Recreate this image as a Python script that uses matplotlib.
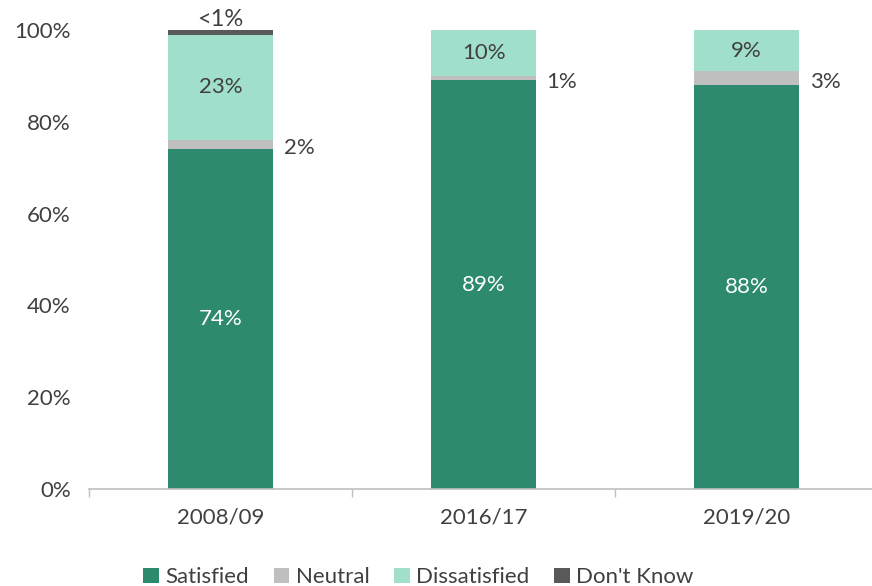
import matplotlib
matplotlib.use("Agg")
import matplotlib.pyplot as plt
from matplotlib.patches import Patch
import numpy as np

plt.rcParams['font.family'] = ['Lato', 'DejaVu Sans']

categories = ["2008/09", "2016/17", "2019/20"]
series_names = ["Satisfied", "Neutral", "Dissatisfied", "Don't Know"]
satisfied = [74, 89, 88]
neutral = [2, 1, 3]
dissatisfied = [23, 10, 9]
dont_know = [1, 0, 0]
satisfied_labels = ["74%", "89%", "88%"]
neutral_labels = ["2%", "1%", "3%"]
dissatisfied_labels = ["23%", "10%", "9%"]
dont_know_labels = ["<1%", "", ""]
yticks = [0, 20, 40, 60, 80, 100]
ytick_labels = ["0%", "20%", "40%", "60%", "80%", "100%"]

colors = ["#2E8A6F", "#BFBFBF", "#A0DFCB", "#595959"]
text_color = "#404040"

fig = plt.figure(figsize=(8.72, 5.86), dpi=100)
ax = fig.add_axes([0.102, 0.1655, 0.905, 0.7833])

x = np.arange(len(categories))
w = 0.40
data = [satisfied, neutral, dissatisfied, dont_know]
bottom = np.zeros(len(categories))
bars = []
for vals, c, name in zip(data, colors, series_names):
    ax.bar(x, vals, w, bottom=bottom, color=c, label=name, zorder=2)
    bars.append((np.array(vals, float), bottom.copy()))
    bottom = bottom + np.array(vals, float)

fs = 16
# Satisfied labels (white, centered)
for i in range(len(categories)):
    v, b0 = bars[0][0][i], bars[0][1][i]
    ax.text(x[i], b0 + v / 2, satisfied_labels[i], ha='center', va='center',
            color='white', fontsize=fs)
# Dissatisfied labels (centered)
for i in range(len(categories)):
    v, b0 = bars[2][0][i], bars[2][1][i]
    ax.text(x[i], b0 + v / 2, dissatisfied_labels[i], ha='center', va='center',
            color=text_color, fontsize=fs)
# Neutral labels (right of bar)
for i in range(len(categories)):
    v, b0 = bars[1][0][i], bars[1][1][i]
    ax.text(x[i] + w / 2 + 0.04, b0 + v / 2 - 0.8, neutral_labels[i], ha='left', va='center',
            color=text_color, fontsize=fs)
# Don't know labels (above)
for i in range(len(categories)):
    if dont_know_labels[i]:
        v, b0 = bars[3][0][i], bars[3][1][i]
        ax.text(x[i], b0 + v + 0.0, dont_know_labels[i], ha='center', va='bottom',
                color=text_color, fontsize=fs + 1)

ax.set_xlim(-0.5, 2.5)
ax.set_ylim(0, 100)
ax.set_yticks(yticks)
ax.set_yticklabels(ytick_labels, color=text_color, fontsize=fs)
ax.set_xticks(x)
ax.set_xticklabels(categories, color=text_color, fontsize=fs)
ax.set_xticks([-0.5, 0.5, 1.5, 2.5], minor=True)
ax.tick_params(axis='x', which='major', length=0, pad=13)
ax.tick_params(axis='x', which='minor', length=6, color='#BFBFBF', width=1)
ax.tick_params(axis='y', length=0, pad=13)

for s in ['top', 'right', 'left']:
    ax.spines[s].set_visible(False)
ax.spines['bottom'].set_color('#BFBFBF')
ax.spines['bottom'].set_linewidth(1.2)

handles = [Patch(facecolor=c, label=n) for c, n in zip(colors, series_names)]
fig.legend(handles=handles, loc='lower center', ncol=4, frameon=False,
           bbox_to_anchor=(0.48, -0.036), fontsize=fs, handlelength=0.7,
           handleheight=0.7, handletextpad=0.3, columnspacing=1.1,
           labelcolor=text_color)

fig.savefig("out.png", dpi=100)
